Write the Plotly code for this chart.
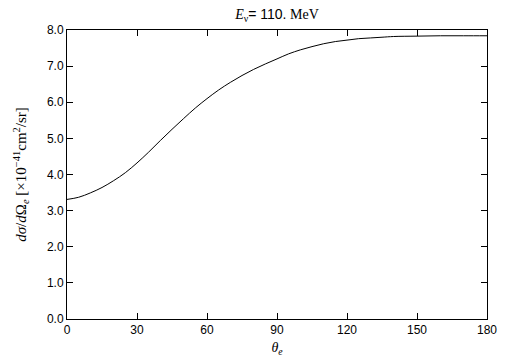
import plotly.graph_objects as go

theta = [0, 5, 10, 15, 20, 25, 30, 35, 40, 45, 50, 55, 60, 65, 70, 75, 80, 85,
         90, 95, 100, 105, 110, 115, 120, 125, 130, 135, 140, 150, 160, 170, 180]
dsigma = [3.31, 3.37, 3.49, 3.64, 3.83, 4.05, 4.32, 4.62, 4.94, 5.25, 5.55, 5.84,
          6.10, 6.34, 6.55, 6.74, 6.91, 7.06, 7.20, 7.34, 7.45, 7.54, 7.62, 7.68,
          7.72, 7.76, 7.78, 7.80, 7.82, 7.83, 7.84, 7.84, 7.84]
x_ticks = [0, 30, 60, 90, 120, 150, 180]
y_ticks = [0, 1, 2, 3, 4, 5, 6, 7, 8]

serif = "Liberation Serif, Times New Roman, serif"
sans = "Liberation Sans, Arial, sans-serif"

fig = go.Figure()
fig.add_trace(go.Scatter(x=theta, y=dsigma, mode="lines",
                         line=dict(color="black", width=1, shape="spline", smoothing=1.0),
                         showlegend=False))

axis_common = dict(showline=True, linecolor="black", linewidth=1, mirror="ticks",
                   ticks="inside", ticklen=6, tickcolor="black", tickwidth=1,
                   showgrid=False, zeroline=False, automargin=False,
                   tickfont=dict(family=sans, size=12, color="black"))

fig.update_xaxes(range=[0, 180], tickvals=x_ticks, ticktext=[str(v) for v in x_ticks],
                 title=dict(text="<i>θ</i><sub><i>e</i></sub>",
                            font=dict(family=serif, size=14, color="black"), standoff=5),
                 **axis_common)
fig.update_yaxes(range=[0, 8], tickvals=y_ticks, ticktext=[f"{v:.1f}" for v in y_ticks],
                 title=dict(text="<i>dσ</i>/<i>d</i>Ω<sub><i>e</i></sub> [×10<sup>−41</sup>cm<sup>2</sup>/sr]",
                            font=dict(family=serif, size=15, color="black"), standoff=16),
                 **axis_common)

fig.update_layout(
    width=505, height=361,
    margin=dict(l=67, r=18, t=30, b=42, autoexpand=False),
    paper_bgcolor="white", plot_bgcolor="white",
    title=dict(text="<i>E</i><sub>ν</sub><span style='font-family:Liberation Sans'>= 110.</span> MeV",
               x=277 / 505, xanchor="center",
               y=1 - 14 / 361, yanchor="middle",
               font=dict(family=serif, size=14, color="black")),
)

fig.write_html("out.html", config={"displayModeBar": False},
               post_script="document.body.style.margin='0';document.body.style.overflow='hidden';")
